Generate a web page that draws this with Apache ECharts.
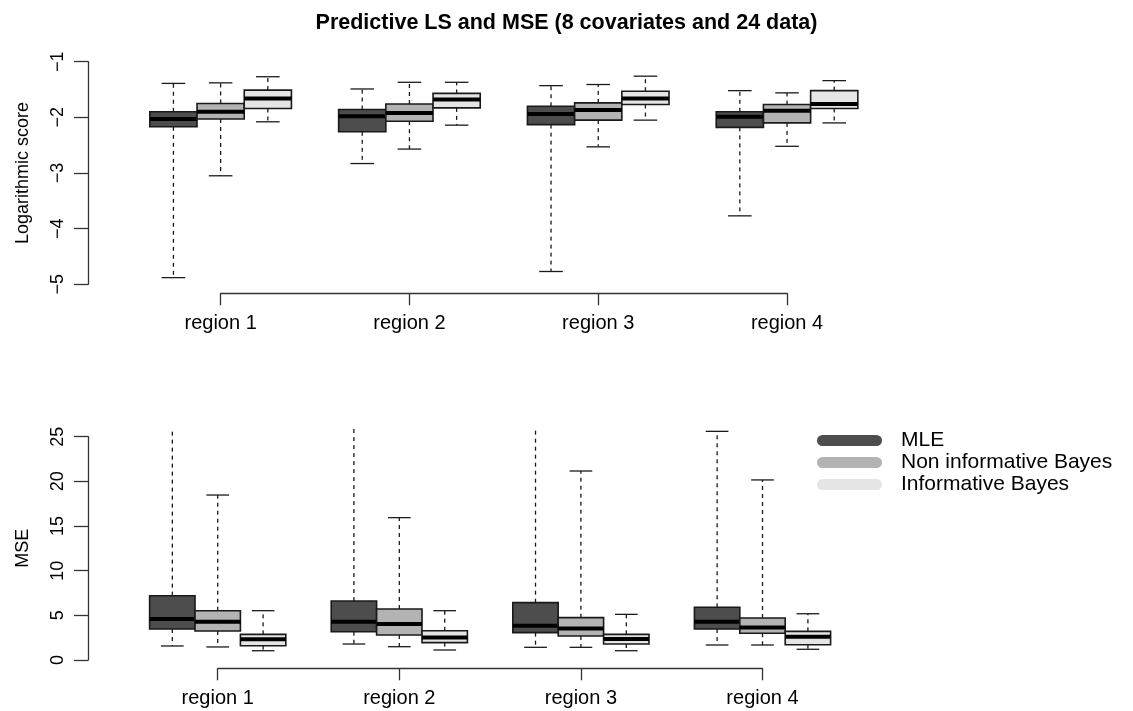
<!DOCTYPE html>
<html><head><meta charset="utf-8">
<script src="https://cdn.jsdelivr.net/npm/echarts@6/dist/echarts.min.js"></script>
<style>html,body{margin:0;padding:0;background:#fff}#c{width:1133px;height:711px}</style>
</head><body><div id="c"></div>
<script>
const titleText = 'Predictive LS and MSE (8 covariates and 24 data)';
const regions = ['region 1', 'region 2', 'region 3', 'region 4'];
const methods = ['MLE', 'Non informative Bayes', 'Informative Bayes'];
const colors = ['#4d4d4d', '#b3b3b3', '#e5e5e5'];
const lsTitle = 'Logarithmic score';
const mseTitle = 'MSE';
// each entry: [lower whisker, Q1, median, Q3, upper whisker], one per region
const lsMLE    = [[-4.88,-2.17,-2.03,-1.90,-1.39],[-2.83,-2.26,-1.98,-1.86,-1.49],[-4.77,-2.13,-1.94,-1.80,-1.43],[-3.77,-2.18,-1.99,-1.90,-1.52]];
const lsNonInf = [[-3.05,-2.03,-1.90,-1.75,-1.38],[-2.57,-2.07,-1.92,-1.76,-1.37],[-2.53,-2.05,-1.87,-1.74,-1.41],[-2.52,-2.10,-1.88,-1.77,-1.56]];
const lsInf    = [[-2.08,-1.84,-1.66,-1.51,-1.27],[-2.14,-1.83,-1.68,-1.57,-1.37],[-2.05,-1.77,-1.66,-1.53,-1.26],[-2.10,-1.84,-1.76,-1.52,-1.34]];
const mseMLE    = [[1.57,3.47,4.60,7.20,28],[1.79,3.17,4.29,6.60,28],[1.42,3.06,3.84,6.42,28],[1.68,3.47,4.29,5.90,25.6]];
const mseNonInf = [[1.46,3.25,4.29,5.52,18.47],[1.49,2.80,4.03,5.71,15.94],[1.42,2.69,3.54,4.74,21.16],[1.68,2.99,3.63,4.70,20.16]];
const mseInf    = [[1.04,1.60,2.31,2.87,5.52],[1.12,1.94,2.53,3.28,5.52],[1.04,1.79,2.35,2.87,5.11],[1.20,1.71,2.61,3.21,5.18]];

// ---- layout ----
const FONT = '"Liberation Sans", Arial, Helvetica, sans-serif';
const AX = '#333';
const panelA = { left: 88, top: 61.7, height: 222.6, unit: 47.2, xmin: -0.81, span: 18, axisY: 293.3, ymin: -5, ymax: -1, step: 1, clipTop: null };
const panelB = { left: 88, top: 436.7, height: 223.3, unit: 45.4, xmin: -0.857, span: 18, axisY: 668.3, ymin: 0, ymax: 25, step: 5, clipTop: 26 };

function toItems(arr, j) {
  return arr.map((v, i) => [4 * i + j + 1].concat(v));
}

function makeRender(clipTop) {
  return function (params, api) {
    const x = api.value(0), lo = api.value(1), q1 = api.value(2), med = api.value(3), q3 = api.value(4), hi = api.value(5);
    const fill = api.visual('color');
    const limY = clipTop == null ? -Infinity : api.coord([x, clipTop])[1];
    const c = api.coord([x, 0])[0];
    const l = api.coord([x - 0.5, q3]);
    const r = api.coord([x + 0.5, q1]);
    const yHi = Math.max(api.coord([x, hi])[1], limY);
    const yLo = api.coord([x, lo])[1];
    const yMed = api.coord([x, med])[1];
    const capL = api.coord([x - 0.25, 0])[0], capR = api.coord([x + 0.25, 0])[0];
    const dash = { stroke: '#1a1a1a', lineWidth: 1.3, lineDash: [4, 4] };
    const solid = { stroke: '#1a1a1a', lineWidth: 1.3 };
    const children = [
      { type: 'line', shape: { x1: c, y1: l[1], x2: c, y2: yHi }, style: dash },
      { type: 'line', shape: { x1: c, y1: r[1], x2: c, y2: yLo }, style: dash },
      { type: 'line', shape: { x1: capL, y1: yLo, x2: capR, y2: yLo }, style: solid }
    ];
    if (clipTop == null || hi <= clipTop) {
      children.push({ type: 'line', shape: { x1: capL, y1: yHi, x2: capR, y2: yHi }, style: solid });
    }
    children.push({ type: 'rect', shape: { x: l[0], y: l[1], width: r[0] - l[0], height: r[1] - l[1] }, style: { fill: fill, stroke: '#1a1a1a', lineWidth: 1.6 } });
    children.push({ type: 'line', shape: { x1: l[0], y1: yMed, x2: r[0], y2: yMed }, style: { stroke: '#000', lineWidth: 4 } });
    return { type: 'group', children: children };
  };
}

function grids(p) {
  const w = p.span * p.unit;
  const axLeft = p.left + (2 - p.xmin) * p.unit;
  return [
    { left: p.left, top: p.top, width: w, height: p.height, containLabel: false, outerBoundsMode: 'none' },
    { left: axLeft, top: p.axisY - 1, width: 12 * p.unit, height: 1, containLabel: false, outerBoundsMode: 'none' }
  ];
}
function xAxes(p, gi) {
  return [
    { gridIndex: gi, type: 'value', min: p.xmin, max: p.xmin + p.span, show: false },
    { gridIndex: gi + 1, type: 'value', min: 2, max: 14, interval: 4,
      axisLine: { show: true, onZero: false, lineStyle: { color: AX, width: 1.3 } },
      axisTick: { show: true, length: 12, lineStyle: { color: AX, width: 1.3 } },
      axisLabel: { show: true, margin: 20, fontSize: 20, color: '#000', fontFamily: FONT, formatter: v => regions[(v - 2) / 4] },
      splitLine: { show: false } }
  ];
}
function yAxes(p, gi, name) {
  return [
    { gridIndex: gi, type: 'value', min: p.ymin, max: p.ymax, interval: p.step,
      name: name, nameLocation: 'middle', nameGap: 56,
      nameTextStyle: { fontSize: 18, color: '#000', fontFamily: FONT },
      axisLine: { show: true, onZero: false, lineStyle: { color: AX, width: 1.3 } },
      axisTick: { show: true, length: 14, lineStyle: { color: AX, width: 1.3 } },
      axisLabel: { rotate: 90, margin: 21, fontSize: 18, color: '#000', fontFamily: FONT, formatter: v => String(v).replace('-', '\u2212') },
      splitLine: { show: false } },
    { gridIndex: gi + 1, type: 'value', show: false }
  ];
}

const lsSets = [lsMLE, lsNonInf, lsInf];
const mseSets = [mseMLE, mseNonInf, mseInf];
const series = [];
lsSets.forEach((arr, j) => series.push({
  type: 'custom', name: methods[j], xAxisIndex: 0, yAxisIndex: 0,
  itemStyle: { color: colors[j] }, renderItem: makeRender(null), clip: false,
  dimensions: ['pos', 'lo', 'q1', 'med', 'q3', 'hi'],
  encode: { x: 0, y: [1, 2, 3, 4, 5] }, data: toItems(arr, j)
}));
mseSets.forEach((arr, j) => series.push({
  type: 'custom', name: methods[j], xAxisIndex: 2, yAxisIndex: 2,
  itemStyle: { color: colors[j] }, renderItem: makeRender(panelB.clipTop), clip: false,
  dimensions: ['pos', 'lo', 'q1', 'med', 'q3', 'hi'],
  encode: { x: 0, y: [1, 2, 3, 4, 5] }, data: toItems(arr, j)
}));

const pill = 'path://M5.5,0 H59.5 A5.5,5.5 0 0 1 59.5,11 H5.5 A5.5,5.5 0 0 1 5.5,0 Z';

const option = {
  animation: false,
  backgroundColor: '#fff',
  textStyle: { fontFamily: FONT },
  title: { text: titleText, left: 'center', top: 7, textStyle: { fontSize: 21.5, fontWeight: 'bold', color: '#000', fontFamily: FONT } },
  legend: {
    orient: 'vertical', left: 817, top: 430, padding: 0, itemWidth: 65, itemHeight: 11, itemGap: 1,
    icon: pill, selectedMode: false, data: methods,
    itemStyle: { borderWidth: 0 },
    textStyle: { fontSize: 21, color: '#000', lineHeight: 21, fontFamily: FONT, padding: [0, 0, 0, 14] }
  },
  grid: grids(panelA).concat(grids(panelB)),
  xAxis: xAxes(panelA, 0).concat(xAxes(panelB, 2)),
  yAxis: yAxes(panelA, 0, lsTitle).concat(yAxes(panelB, 2, mseTitle)),
  series: series
};

const chart = echarts.init(document.getElementById('c'), null, { renderer: 'canvas' });
chart.setOption(option);
</script></body></html>
